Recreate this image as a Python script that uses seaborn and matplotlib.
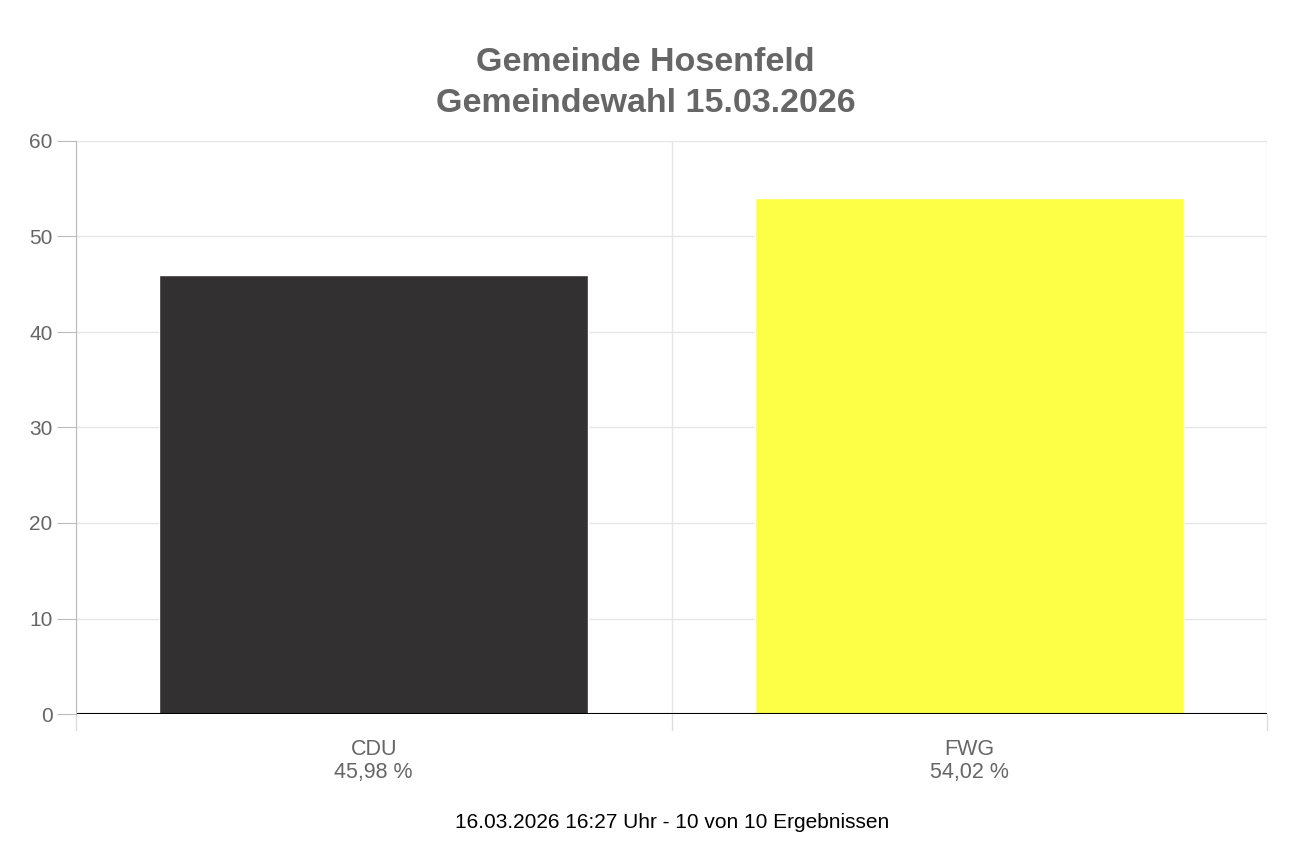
import matplotlib
matplotlib.use("Agg")
import matplotlib.pyplot as plt
import seaborn as sns
import pandas as pd

parties = ["CDU", "FWG"]
values = [45.98, 54.02]
labels = ["45,98 %", "54,02 %"]
colors = ["#323031", "#fdff47"]
title = "Gemeinde Hosenfeld\nGemeindewahl 15.03.2026"
footer = "16.03.2026 16:27 Uhr - 10 von 10 Ergebnissen"

sns.set_style("white")
plt.rcParams['font.family'] = ['Liberation Sans', 'DejaVu Sans']

fig = plt.figure(figsize=(12.91, 8.63), dpi=100)
ax = fig.add_axes([76/1291, 1-714/863, (1267-76)/1291, (714-141)/863])
df = pd.DataFrame({"party": parties, "value": values})
sns.barplot(data=df, x="party", y="value", hue="party", palette=colors, width=0.72,
            saturation=1, legend=False, ax=ax)
ax.set_xlim(-0.5, 1.5)
ax.set_ylim(0, 60)
ax.set_yticks(range(0, 61, 10))
ax.set_xlabel(""); ax.set_ylabel("")
ax.set_axisbelow(True)
ax.yaxis.grid(True, color="#e6e6e6", lw=1)
for x in [-0.5, 0.5, 1.5]:
    ax.axvline(x, color="#e6e6e6", lw=1, zorder=0)
ax.set_xticks([0, 1])
ax.set_xticklabels([f"{p}\n{l}" for p, l in zip(parties, labels)], color="#666666",
                   fontsize=15.5, linespacing=1.1)
ax.tick_params(axis="x", length=0, pad=18)
ax.tick_params(axis="y", length=14, color="#bbbbbb", labelcolor="#666666", labelsize=15, pad=3, left=True)
for x in [-0.5, 0.5, 1.5]:
    ax.plot([x, x], [0, -16/573*60], color="#dddddd", lw=1, clip_on=False)
for s in ["top", "right", "bottom"]:
    ax.spines[s].set_visible(False)
ax.spines["left"].set_color("#bbbbbb")
ax.axhline(0, color="black", lw=1.5)
fig.text(0.5, 1-83/863, title, ha="center", va="center", fontsize=24.5, fontweight="bold",
         color="#666666", linespacing=1.38)
fig.text(672/1291, 1-822/863, footer, ha="center", va="center", fontsize=15, color="black")
fig.savefig("out.png", dpi=100)
